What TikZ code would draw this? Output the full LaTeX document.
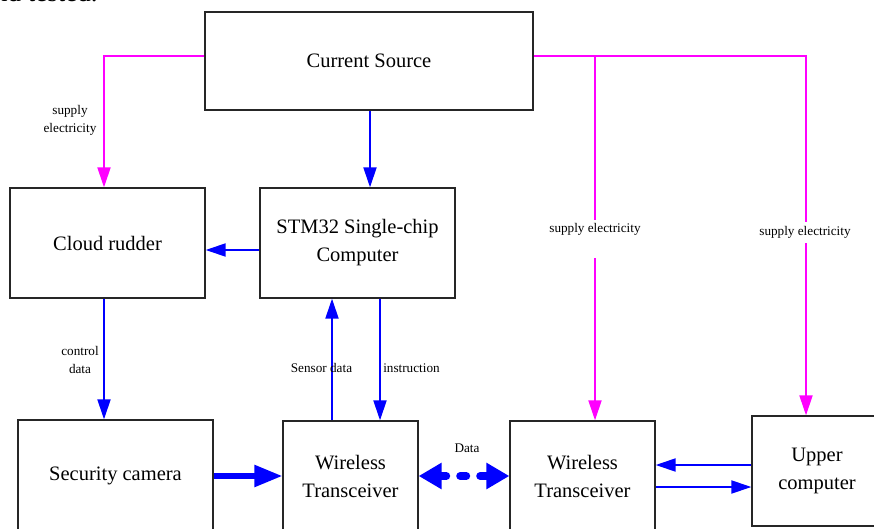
\documentclass[tikz,border=0pt]{standalone}
\usepackage{fontspec}
\setmainfont{Liberation Serif}
\usetikzlibrary{arrows.meta}
\definecolor{mag}{RGB}{255,0,255}
\begin{document}
\begin{tikzpicture}[x=1pt,y=-1pt,
  box/.style={draw=black!85,line width=1.3pt,fill=white,inner sep=0pt,align=center,
    font=\fontsize{20.5}{28}\selectfont},
  lbl/.style={inner sep=0pt,align=center,font=\fontsize{13.2}{18}\selectfont},
  pk/.style={draw=mag,line width=2pt},
  bl/.style={draw=blue,line width=2pt},
  tipa/.style={-{Triangle[length=20pt,width=13pt]}},
]
\useasboundingbox (0,0) rectangle (874,529);
\node[anchor=base west,inner sep=0pt,font=\fontsize{27}{30}\selectfont] (top) at (-6,1.5) {nd tested.};

\node[box,minimum width=328,minimum height=98] (CS) at (369,61) {Current Source};
\node[box,minimum width=195,minimum height=110] (CR) at (107.5,243) {Cloud rudder};
\node[box,minimum width=195,minimum height=110] (STM) at (357.5,243) {STM32 Single-chip\\Computer};
\node[box,minimum width=195,minimum height=112] (SC) at (115.5,476) {Security camera};
\node[box,minimum width=135,minimum height=110] (WT1) at (350.5,476) {Wireless\\Transceiver};
\node[box,minimum width=145,minimum height=110] (WT2) at (582.5,476) {Wireless\\Transceiver};
\node[box,minimum width=130,minimum height=110] (UC) at (817,471) {Upper\\computer};

% magenta supply lines
\coordinate (mL) at (104,56);
\coordinate (mR) at (806,56);
\coordinate (mB) at (595,56);
\coordinate (gA) at (595,220);
\coordinate (gB) at (595,258);
\coordinate (gC) at (806,222);
\coordinate (gD) at (806,243);
\draw[pk,tipa] (CS.west |- mL) -- (mL) -- (CR.north -| mL);
\draw[pk] (CS.east |- mR) -- (mR) -- (gC);
\draw[pk,tipa] (gD) -- (UC.north -| mR);
\draw[pk] (mB) -- (gA);
\draw[pk,tipa] (gB) -- (WT2.north -| gB);

\node[lbl] (l1) at (70,120) {supply\\electricity};
\node[lbl] (l2) at (595,229) {supply electricity};
\node[lbl] (l3) at (805,232) {supply electricity};

% blue lines
\coordinate (cx) at (370,0);
\draw[bl,tipa] (CS.south -| cx) -- (STM.north -| cx);
\coordinate (sy) at (0,250);
\draw[bl,tipa] (STM.west |- sy) -- (CR.east |- sy);
\coordinate (cdx) at (104,0);
\draw[bl,tipa] (CR.south -| cdx) -- (SC.north -| cdx);
\coordinate (sdx) at (332,0);
\coordinate (inx) at (380,0);
\draw[bl,tipa] (WT1.north -| sdx) -- (STM.south -| sdx);
\draw[bl,tipa] (STM.south -| inx) -- (WT1.north -| inx);
\coordinate (ua) at (0,465);
\coordinate (ub) at (0,487);
\draw[bl,tipa] (UC.west |- ua) -- (WT2.east |- ua);
\draw[bl,tipa] (WT2.east |- ub) -- (UC.west |- ub);

\draw[draw=blue,line width=5.5pt,-{Triangle[length=28pt,width=21pt]}] (SC.east) -- (WT1.west);
\draw[draw=blue,line width=8pt,line cap=round,dash pattern=on 6pt off 14pt,
  {Triangle[length=23pt,width=25pt]}-{Triangle[length=23pt,width=25pt]}] (WT1.east) -- (WT2.west);

\node[lbl] (l4) at (80,360) {control\\data};
\node[lbl] (l5) at (321.5,368) {Sensor data};
\node[lbl] (l6) at (411.5,368) {instruction};
\node[lbl] (l7) at (467,448) {Data};
\end{tikzpicture}
\end{document}
